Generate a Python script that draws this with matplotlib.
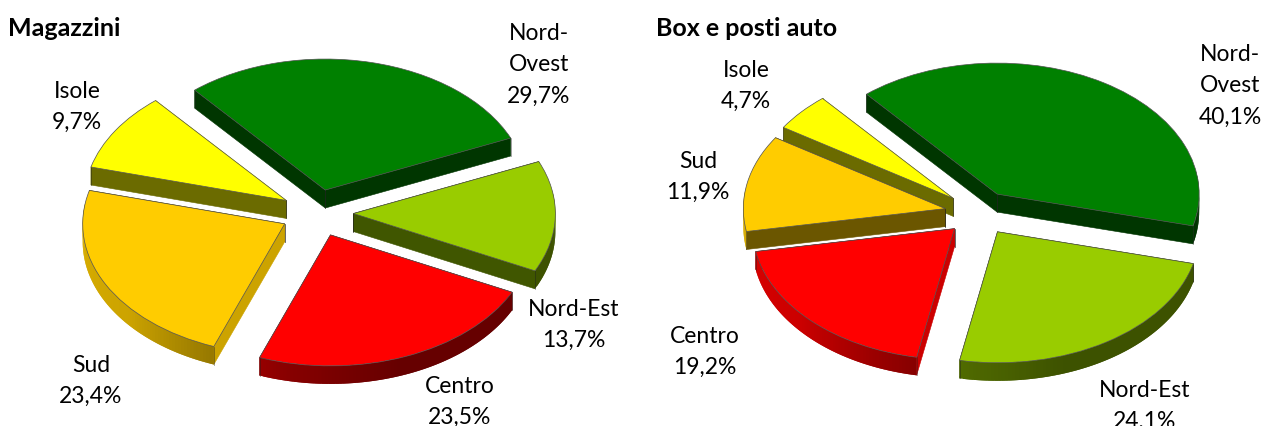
import numpy as np
import matplotlib
matplotlib.use("Agg")
import matplotlib.pyplot as plt
from matplotlib.colors import to_rgb

categories = ["Nord-Ovest", "Nord-Est", "Centro", "Sud", "Isole"]
magazzini_values = [29.7, 13.7, 23.5, 23.4, 9.7]
box_values = [40.1, 24.1, 19.2, 11.9, 4.7]
titles = ["Magazzini", "Box e posti auto"]
slice_colors = ["#008000", "#99CC00", "#FF0000", "#FFCC00", "#FFFF00"]

W, H = 1264, 427
plt.rcParams["font.family"] = ["Lato", "DejaVu Sans"]
fig = plt.figure(figsize=(W / 100, H / 100), dpi=100, facecolor="white")

RX, RY, DEPTH = 202, 131, 18
XL, YL = 1.3, 1.6


def make_axes(cx, cy):
    ax = fig.add_axes([(cx - XL * RX) / W, 1 - (cy + YL * RY) / H, 2 * XL * RX / W, 2 * YL * RY / H])
    ax.patch.set_alpha(0)
    return ax


def rim_shade(theta):
    return np.interp(theta % 360, [90, 180, 220, 245, 260, 290, 360], [0.85, 0.85, 0.8, 0.62, 0.52, 0.4, 0.4])


def dark(color, s):
    return tuple(np.array(to_rgb(color)) * s)


def extrude(ax, wedge, color, z):
    d = DEPTH / RY
    cx, cy = wedge.center
    r = wedge.r
    t1, t2 = wedge.theta1, wedge.theta2
    # straight cut faces
    for t, sign in ((t1, -1), (t2, 1)):
        a = np.radians(t)
        ex, ey = cx + r * np.cos(a), cy + r * np.sin(a)
        sx, sy = (ex - cx) * RX, (ey - cy) * RY
        n = np.array([sy, -sx]) * (1 if sign < 0 else -1)
        n = n / np.hypot(*n)
        shade = 0.8 if n[0] > 0.5 else 0.42
        c = dark(color, shade)
        ax.fill([cx, ex, ex, cx], [cy, ey, ey - d, cy - d], color=c, lw=0.4, zorder=z + 0.1)
        ax.plot([ex, ex], [ey, ey - d], color="#202020", lw=0.5, alpha=0.6, zorder=z + 0.2)
        ax.plot([cx, cx], [cy, cy - d], color="#202020", lw=0.5, alpha=0.6, zorder=z + 0.2)
    # curved rim, each strip overlapping the next so no seams show
    edges = np.arange(t1, t2 + 1.0, 1.0)
    edges[-1] = t2
    for k, (a0, a1) in enumerate(zip(edges[:-1], edges[1:])):
        if np.sin(np.radians((a0 + a1) / 2)) > 0.15:
            continue
        a1x = min(a1 + 1.0, t2)
        xs = cx + r * np.cos(np.radians([a0, a1x]))
        ys = cy + r * np.sin(np.radians([a0, a1x]))
        ax.fill([xs[0], xs[1], xs[1], xs[0]], [ys[0], ys[1], ys[1] - d, ys[0] - d],
                facecolor=dark(color, rim_shade((a0 + a1) / 2)), edgecolor="none", lw=0,
                zorder=z + 0.15 + k * 1e-4)


def exploded_pie(cx, cy, values, start, explode):
    ax = make_axes(cx, cy)
    wedges, _ = ax.pie(values, colors=slice_colors, startangle=start, counterclock=False,
                       explode=[explode] * len(values), radius=1,
                       wedgeprops=dict(edgecolor="#505050", linewidth=0.5))
    ax.set_aspect("auto")
    ax.set_xlim(-XL, XL)
    ax.set_ylim(-YL, YL)
    ax.axis("off")
    order = [0, 4, 1, 3, 2]
    for rank, i in enumerate(order):
        z = 2 + rank
        extrude(ax, wedges[i], slice_colors[i], z)
        wedges[i].set_zorder(z + 0.5)
    return ax


exploded_pie(317, 214, magazzini_values, 130.3, 0.18)
exploded_pie(979, 214, box_values, 130.3, 0.17)


def pct(v):
    return f"{v:.1f}".replace(".", ",") + "%"


def label(name, v, x, y):
    name = name.replace("Nord-Ovest", "Nord-\nOvest")
    fig.text(x / W, 1 - y / H, f"{name}\n{pct(v)}", ha="center", va="center", fontsize=16.5,
             linespacing=1.62, color="black", clip_on=False)


mag_pos = [(539, 65), (574, 325), (460, 402), (91, 381), (77, 107)]
box_pos = [(1230, 86), (1145, 406), (705, 352), (698, 177), (746, 86)]
for name, v, (x, y) in zip(categories, magazzini_values, mag_pos):
    label(name, v, x, y)
for name, v, (x, y) in zip(categories, box_values, box_pos):
    label(name, v, x, y)

fig.text(8 / W, 1 - 28 / H, titles[0], fontsize=18, fontweight="bold", va="center", ha="left")
fig.text(656 / W, 1 - 28 / H, titles[1], fontsize=18, fontweight="bold", va="center", ha="left")

fig.savefig("out.png", dpi=100, facecolor="white")
